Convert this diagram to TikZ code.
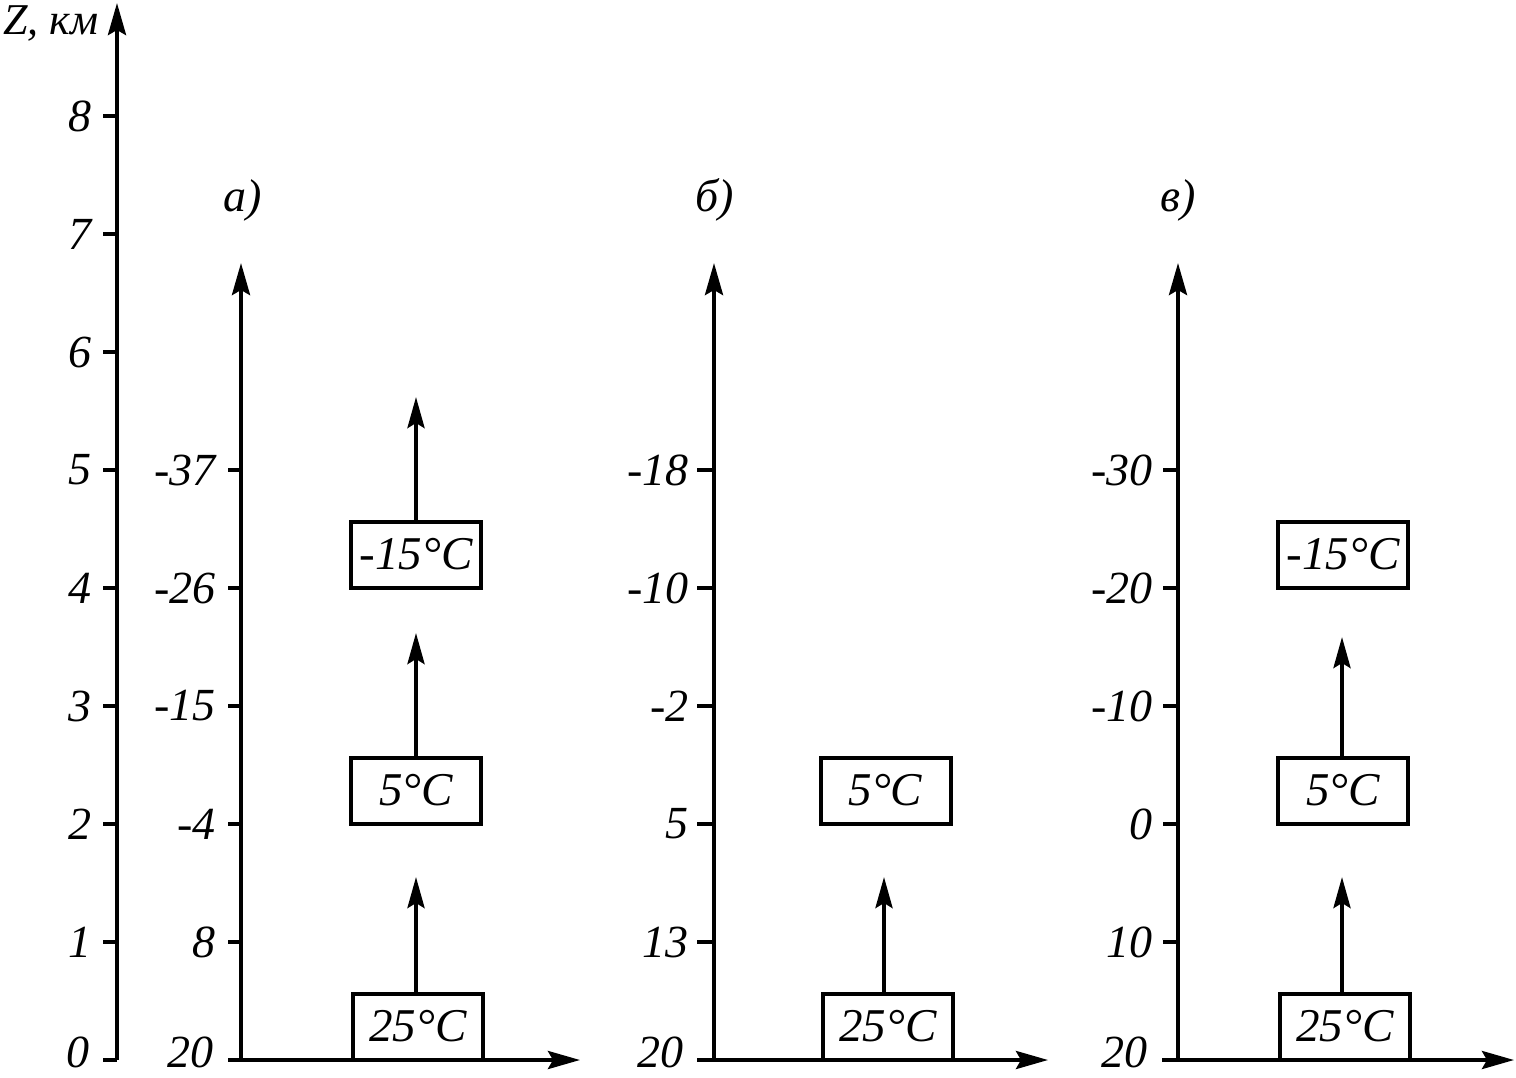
\documentclass[tikz,border=0pt]{standalone}
\usepackage{fontspec}
\setmainfont{Liberation Serif}
\usetikzlibrary{arrows.meta,positioning}

\begin{document}
\begin{tikzpicture}[
    x=0.5pt, y=-0.5pt,
    axis/.style={line width=2pt, -{Stealth[length=16pt, width=9pt, inset=2.5pt]}},
    ticmark/.style={line width=2pt},
    lbl/.style={font=\fontsize{23}{23}\selectfont\itshape, anchor=east, inner sep=0pt},
    tbox/.style={draw, line width=2pt, minimum width=65pt, minimum height=33pt, inner sep=0pt,
      font=\fontsize{23.5}{23.5}\selectfont\itshape},
    uparr/.style={line width=2pt, -{Stealth[length=15.5pt, width=8.5pt, inset=2.5pt]}}
  ]
  \useasboundingbox (0,0) rectangle (1516,1077);

  % main height axis
  \coordinate (z0) at (117,1060);
  \coordinate (ztop) at (117,3);
  \draw[axis] (z0) -- (ztop);
  \node[lbl, font=\fontsize{22}{22}\selectfont\itshape] (zname) at (99,23) {Z, км};
  \foreach \k in {1,...,8} {
    \draw[ticmark] (103,{1060-118*\k}) -- (117,{1060-118*\k});
    \node[lbl] (z\k) at (92,{1060-118*\k}) {\k};
  }
  \draw[ticmark] (103,1060) -- (z0);
  \node[lbl] (z0lbl) at (90,1052) {0};

  % panel a
  \node[lbl, anchor=center] (ta) at (243,200) {а)};
  \coordinate (a0) at (241,1060);
  \draw[axis] (228,1060) -- (580,1060);
  \draw[axis] (a0) -- (241,263);
  \foreach \v [count=\i] in {8,-4,-15,-26,-37} {
    \draw[ticmark] (228,{1060-118*\i}) -- (241,{1060-118*\i});
    \node[lbl] at (216,{1060-118*\i}) {\v};
  }
  \node[lbl] (a20) at (214,1052) {20};
  \node[tbox] (a25) at (418,1026.5) {25°C};
  \node[tbox] (a5) at (416,790.5) {5°C};
  \node[tbox] (am15) at (416,554.5) {-15°C};
  \coordinate (a25up) at (416,877);
  \coordinate (a5up) at (416,633);
  \coordinate (am15up) at (416,397);
  \draw[uparr] (a25.north -| a25up) -- (a25up);
  \draw[uparr] (a5.north) -- (a5up);
  \draw[uparr] (am15.north) -- (am15up);

  % panel b
  \node[lbl, anchor=center] (tb) at (715,200) {б)};
  \coordinate (b0) at (714,1060);
  \draw[axis] (697,1060) -- (1048,1060);
  \draw[axis] (b0) -- (714,263);
  \foreach \v [count=\i] in {13,5,-2,-10,-18} {
    \draw[ticmark] (697,{1060-118*\i}) -- (714,{1060-118*\i});
    \node[lbl] at (689,{1060-118*\i}) {\v};
  }
  \node[lbl] (b20) at (684,1052) {20};
  \node[tbox] (b25) at (888,1026.5) {25°C};
  \node[tbox] (b5) at (885.5,790.5) {5°C};
  \coordinate (b25up) at (884,877);
  \draw[uparr] (b25.north -| b25up) -- (b25up);

  % panel c
  \node[lbl, anchor=center] (tc) at (1178,200) {в)};
  \coordinate (c0) at (1178,1060);
  \draw[axis] (1162,1060) -- (1514,1060);
  \draw[axis] (c0) -- (1178,263);
  \foreach \v [count=\i] in {10,0,-10,-20,-30} {
    \draw[ticmark] (1163,{1060-118*\i}) -- (1178,{1060-118*\i});
    \node[lbl] at (1153,{1060-118*\i}) {\v};
  }
  \node[lbl] (c20) at (1148,1052) {20};
  \node[tbox] (c25) at (1345,1026.5) {25°C};
  \node[tbox] (c5) at (1343,790.5) {5°C};
  \node[tbox] (cm15) at (1343,554.5) {-15°C};
  \coordinate (c25up) at (1342,877);
  \coordinate (c5up) at (1342,637);
  \draw[uparr] (c25.north -| c25up) -- (c25up);
  \draw[uparr] (c5.north -| c5up) -- (c5up);
\end{tikzpicture}
\end{document}
